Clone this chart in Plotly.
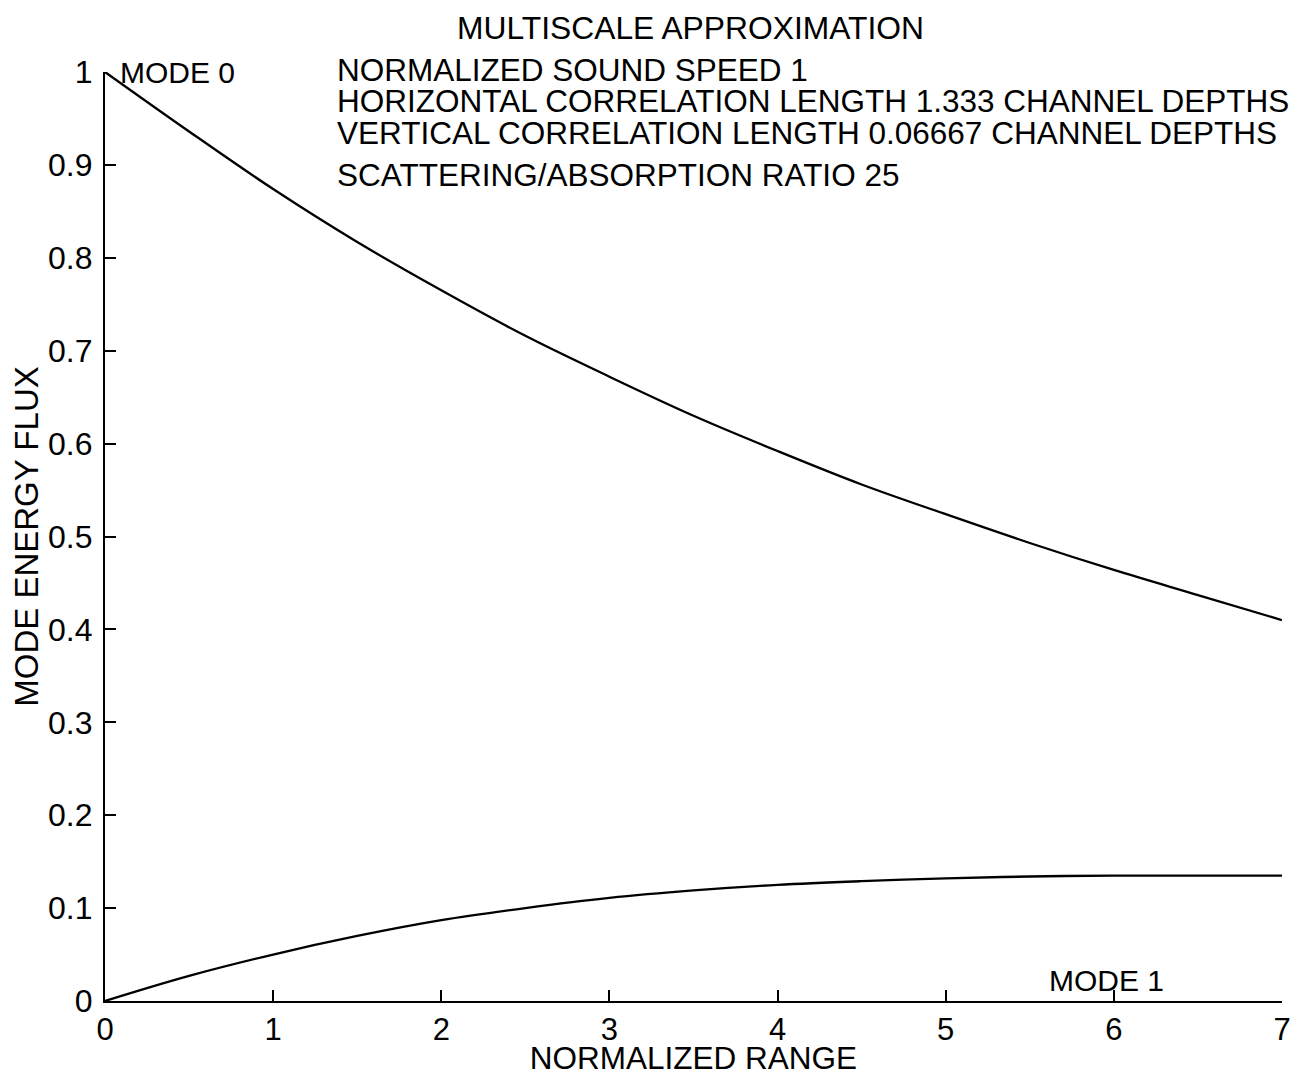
import plotly.graph_objects as go

# Data
range_x = [0, 0.5, 1, 1.5, 2, 2.5, 3, 3.5, 4, 4.5, 5, 5.5, 6, 6.5, 7]
mode0 = [1.0, 0.936, 0.874, 0.817, 0.765, 0.716, 0.672, 0.630, 0.592, 0.556, 0.524, 0.493, 0.464, 0.437, 0.410]
mode1 = [0.0, 0.027, 0.050, 0.070, 0.087, 0.100, 0.111, 0.119, 0.125, 0.129, 0.132, 0.134, 0.135, 0.135, 0.135]

x_ticks = [0, 1, 2, 3, 4, 5, 6, 7]
y_ticks = [0, 0.1, 0.2, 0.3, 0.4, 0.5, 0.6, 0.7, 0.8, 0.9, 1]
y_tick_text = ["0", "0.1", "0.2", "0.3", "0.4", "0.5", "0.6", "0.7", "0.8", "0.9", "1"]

info_lines = [
    "NORMALIZED SOUND SPEED 1",
    "HORIZONTAL CORRELATION LENGTH 1.333 CHANNEL DEPTHS",
    "VERTICAL CORRELATION LENGTH 0.06667 CHANNEL DEPTHS",
    "SCATTERING/ABSORPTION RATIO 25",
]
title_text = "MULTISCALE APPROXIMATION"

FONT = "Arial, Liberation Sans, Helvetica, sans-serif"

fig = go.Figure()
fig.add_trace(go.Scatter(x=range_x, y=mode0, mode="lines", line=dict(color="black", width=2.3, shape="spline"),
                         name="MODE 0", showlegend=False))
fig.add_trace(go.Scatter(x=range_x, y=mode1, mode="lines", line=dict(color="black", width=2.3, shape="spline"),
                         name="MODE 1", showlegend=False))

annotations = []
annotations.append(dict(x=3.48, y=1.047, xref="x", yref="paper", text=title_text, showarrow=False,
                        xanchor="center", yanchor="middle", font=dict(size=31.8, color="black", family=FONT)))
info_y = [1.002, 0.969, 0.934, 0.889]
for t, yy in zip(info_lines, info_y):
    annotations.append(dict(x=1.37, y=yy, xref="x", yref="paper", text=t, showarrow=False,
                            xanchor="left", yanchor="middle", font=dict(size=31.5, color="black", family=FONT)))
annotations.append(dict(x=0.08, y=1.0, xref="x", yref="paper", text="MODE 0", showarrow=False,
                        xanchor="left", yanchor="middle", font=dict(size=30, color="black", family=FONT)))
annotations.append(dict(x=5.6, y=0.022, xref="x", yref="paper", text="MODE 1", showarrow=False,
                        xanchor="left", yanchor="middle", font=dict(size=30, color="black", family=FONT)))

fig.update_layout(
    width=1293, height=1068,
    margin=dict(l=97, r=19, t=64, b=75, autoexpand=False),
    paper_bgcolor="white", plot_bgcolor="white",
    font=dict(family=FONT, size=31, color="black"),
    annotations=annotations,
    xaxis=dict(range=[0, 7], tickvals=x_ticks, ticktext=[str(v) for v in x_ticks],
               showgrid=False, zeroline=False, showline=True, linecolor="black", linewidth=2.2,
               ticks="inside", ticklen=11, tickwidth=1.5, tickcolor="black",
               title=dict(text="NORMALIZED RANGE", standoff=0, font=dict(size=31.5)),
               tickfont=dict(size=31), mirror=False, automargin=False),
    yaxis=dict(range=[0, 1], tickvals=y_ticks, ticktext=y_tick_text,
               showgrid=False, zeroline=False, showline=True, linecolor="black", linewidth=2.2,
               ticks="inside", ticklen=11, tickwidth=1.5, tickcolor="black",
               ticklabelstandoff=4,
               title=dict(text="MODE ENERGY FLUX", standoff=2, font=dict(size=33)),
               tickfont=dict(size=32), mirror=False, automargin=False),
)

fig.write_html("out.html")
